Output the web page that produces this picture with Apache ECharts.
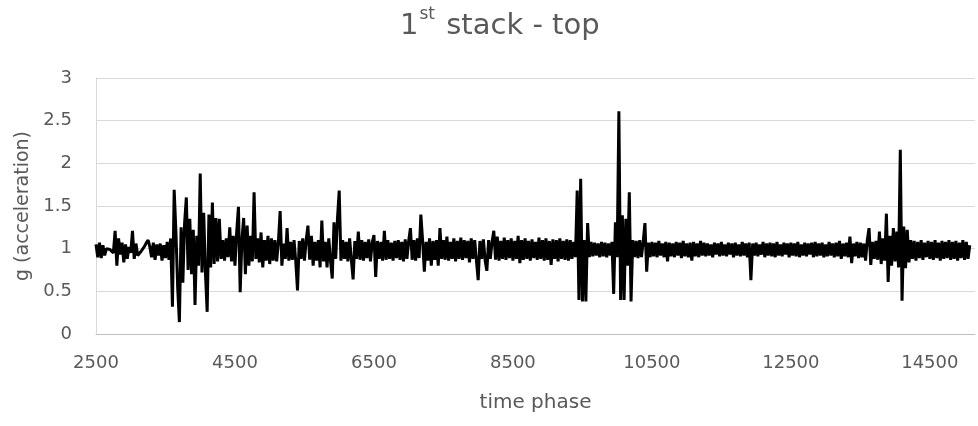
<!DOCTYPE html>
<html>
<head>
<meta charset="utf-8">
<script src="https://cdn.jsdelivr.net/npm/echarts@6/dist/echarts.min.js"></script>
<style>
html,body{margin:0;padding:0;background:#fff;}
#chart{width:978px;height:426px;}
</style>
</head>
<body>
<div id="chart"></div>
<script>
// Time phase sampling (start and step of the recorded signal)
const timeStart = 2500;
const timeStep = 25;
// Acceleration values (g)
const accel = [
1.05,0.90,1.07,0.89,1.04,0.92,1.00,1.00,0.99,1.01,
0.95,1.21,0.80,1.12,0.93,1.07,0.84,1.05,0.88,1.02,
0.95,1.21,0.88,1.06,0.92,0.90,0.97,0.99,1.03,1.07,
1.10,1.02,0.90,1.07,0.87,1.05,0.92,1.06,0.86,1.04,
0.89,1.08,0.87,1.12,0.32,1.69,1.20,0.55,0.14,1.25,
0.60,1.30,1.60,0.75,1.35,0.70,1.22,0.34,1.15,0.80,
1.88,0.72,1.42,0.71,0.26,1.40,0.78,1.54,0.82,1.36,
0.85,1.35,0.88,1.10,0.86,1.12,0.90,1.25,0.85,1.15,
0.80,1.20,1.49,0.49,1.10,1.36,0.70,1.27,0.80,1.15,
0.85,1.66,0.88,1.12,0.84,1.19,0.78,1.10,0.86,1.15,
0.82,1.12,0.86,1.10,0.85,1.08,1.44,0.80,1.06,0.88,
1.24,0.86,1.08,0.87,1.10,0.85,0.51,1.09,0.88,1.12,
0.86,1.10,1.27,0.87,1.15,0.80,1.08,0.86,1.10,0.78,
1.33,0.85,1.08,0.78,1.12,0.86,0.65,1.31,0.88,1.35,
1.68,0.86,1.10,0.88,1.08,0.85,1.12,0.87,0.64,1.09,
0.88,1.20,0.87,1.10,0.86,1.08,0.89,1.11,0.85,1.07,
1.16,0.67,1.09,0.88,1.08,0.86,1.21,0.87,1.10,0.88,
1.07,0.86,1.09,0.89,1.10,0.87,1.08,0.85,1.11,0.88,
1.09,1.24,0.87,1.10,0.86,1.12,0.89,1.40,1.10,0.73,
1.08,0.86,1.12,0.80,1.09,0.87,1.10,0.80,1.24,0.88,
1.10,0.87,1.14,0.86,1.08,0.88,1.12,0.85,1.09,0.88,
1.13,0.87,1.10,0.89,1.09,0.84,1.12,0.88,1.10,0.86,
0.63,1.09,0.88,1.11,0.86,0.74,1.10,0.88,1.08,1.21,
0.87,1.14,0.86,1.09,0.88,1.13,0.87,1.10,0.89,1.12,
0.86,1.09,0.88,1.15,0.83,1.10,0.87,1.12,0.88,1.09,
0.86,1.11,0.89,1.08,0.87,1.13,0.88,1.10,0.86,1.12,
0.87,1.09,0.81,1.11,0.88,1.10,0.85,1.12,0.88,1.09,
0.87,1.11,0.86,1.10,0.88,1.08,0.90,1.68,0.40,1.82,
0.38,1.10,0.38,1.30,0.90,1.08,0.91,1.07,0.92,1.06,
0.90,1.08,0.91,1.07,0.90,1.06,0.92,1.08,0.47,1.31,
0.90,2.61,0.40,1.39,0.40,1.35,0.80,1.66,0.38,1.10,
0.90,1.09,0.89,1.10,0.90,1.08,1.30,0.73,1.07,0.90,
1.08,0.91,1.07,0.90,1.09,0.92,1.06,0.90,1.08,0.85,
1.07,0.91,1.06,0.90,1.08,0.92,1.07,0.89,1.09,0.91,
1.06,0.90,1.07,0.86,1.08,0.91,1.06,0.90,1.09,0.92,
1.07,0.91,1.06,0.92,1.05,0.90,1.07,0.93,1.06,0.91,
1.08,0.92,1.05,0.91,1.07,0.93,1.06,0.90,1.07,0.92,
1.05,0.91,1.08,0.92,1.06,0.90,1.07,0.63,1.06,0.92,
1.07,0.91,1.05,0.93,1.08,0.90,1.06,0.92,1.07,0.91,
1.06,0.90,1.08,0.92,1.05,0.91,1.07,0.93,1.06,0.90,
1.07,0.92,1.06,0.91,1.08,0.90,1.05,0.92,1.07,0.91,
1.06,0.93,1.07,0.90,1.08,0.91,1.06,0.92,1.07,0.90,
1.05,0.91,1.08,0.92,1.06,0.90,1.07,0.91,1.09,0.88,
1.06,0.91,1.07,0.90,1.14,0.83,1.06,0.91,1.08,0.89,
1.07,0.90,1.06,0.86,1.10,1.24,0.81,1.08,0.88,1.09,
0.87,1.20,0.82,1.12,0.86,1.41,0.61,1.15,0.80,1.24,
0.85,1.20,0.78,2.16,0.39,1.26,0.77,1.22,0.84,1.10,
0.88,1.09,0.86,1.08,0.89,1.10,0.87,1.07,0.90,1.09,
0.88,1.08,0.87,1.10,0.89,1.07,0.86,1.09,0.88,1.08,
0.89,1.10,0.87,1.08,0.88,1.09,0.86,1.07,0.89,1.10,
0.87,1.08,0.88,1.04
];
// Axis ticks
const xTicks = [2500, 4500, 6500, 8500, 10500, 12500, 14500];
const yTicks = [0, 0.5, 1, 1.5, 2, 2.5, 3];

const seriesData = accel.map((v, i) => [timeStart + timeStep * i, v]);

const chart = echarts.init(document.getElementById('chart'), null, {renderer: 'canvas'});
const grey = '#595959';
chart.setOption({
  animation: false,
  backgroundColor: '#ffffff',
  title: {
    text: '{a|1}{s|st}{a| stack - top}',
    left: 395,
    top: 1,
    textStyle: {
      fontWeight: 'normal',
      rich: {
        a: {fontFamily: 'DejaVu Sans', fontWeight: 'normal', fontSize: 29, color: grey, verticalAlign: 'bottom', lineHeight: 35},
        s: {fontFamily: 'DejaVu Sans', fontWeight: 'normal', fontSize: 17, color: grey, verticalAlign: 'top', lineHeight: 35, padding: [0, 2, 14, 1]}
      }
    }
  },
  grid: {left: 96, right: 3, top: 78, bottom: 92, containLabel: false},
  xAxis: {
    type: 'value',
    min: xTicks[0],
    max: 15150,
    interval: 2000,
    name: 'time phase',
    nameLocation: 'middle',
    nameGap: 59,
    nameTextStyle: {fontFamily: 'DejaVu Sans', fontSize: 20, color: grey},
    axisLine: {show: true, lineStyle: {color: '#bfbfbf', width: 1}},
    axisTick: {show: false},
    splitLine: {show: false},
    axisLabel: {
      fontFamily: 'DejaVu Sans', fontSize: 18, color: grey, margin: 20,
      showMaxLabel: false,
      formatter: v => xTicks.indexOf(v) >= 0 ? String(v) : ''
    }
  },
  yAxis: {
    type: 'value',
    min: yTicks[0],
    max: yTicks[yTicks.length - 1],
    interval: 0.5,
    name: 'g (acceleration)',
    nameLocation: 'middle',
    nameGap: 61,
    nameTextStyle: {fontFamily: 'DejaVu Sans', fontSize: 19, color: grey},
    axisLine: {show: true, lineStyle: {color: '#d9d9d9', width: 1}},
    axisTick: {show: false},
    splitLine: {show: true, lineStyle: {color: '#d9d9d9', width: 1}},
    axisLabel: {fontFamily: 'DejaVu Sans', fontSize: 18, color: grey, margin: 24}
  },
  series: [{
    type: 'line',
    data: seriesData,
    showSymbol: false,
    symbol: 'none',
    sampling: null,
    lineStyle: {color: '#000000', width: 3, join: 'bevel'},
    itemStyle: {color: '#000000'}
  }]
});
</script>
</body>
</html>
